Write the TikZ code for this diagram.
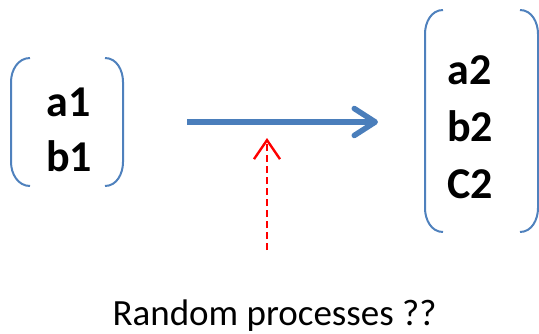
\documentclass[tikz,border=0pt]{standalone}
\usepackage{fontspec}
\setmainfont{Carlito}
\usetikzlibrary{arrows.meta}
\definecolor{parblue}{HTML}{4F81BD}
\definecolor{flowblue}{HTML}{4A7EBB}

\begin{document}
\begin{tikzpicture}[x=1pt,y=-1pt,
var/.style={font=\fontsize{44}{50}\selectfont\bfseries,
  text height=28pt,text depth=0pt,inner sep=0pt},
note/.style={font=\fontsize{37}{42}\selectfont,inner sep=0pt},
paren/.style={draw=parblue,line width=2pt},
flow/.style={draw=flowblue,line width=5.5pt,
  -{Straight Barb[length=21pt,width=27pt,line cap=round,line join=round]}},
hint/.style={draw=red,line width=2.4pt,dash pattern=on 7pt off 4pt,
  -{Straight Barb[length=19pt,width=26pt,line width=2.4pt]}},
node distance=55pt]
\useasboundingbox (0,0) rectangle (539,333);

\node[var] (a1) at (69,102) {a1};
\node[var,below of=a1] (b1) {b1};

\node[var] (a2) at (470,70) {a2};
\node[var,below of=a2,node distance=57pt] (b2) {b2};
\node[var,below of=b2,node distance=57pt] (c2) {C2};

\node[note,anchor=base] (rp) at (274.5,325) {Random processes ??};

% brackets
\draw[paren] (30,58) to[out=180,in=90] (11,82) -- (11,162) to[out=-90,in=180] (30,186);
\draw[paren] (105,58) to[out=0,in=90] (123,82) -- (123,162) to[out=-90,in=0] (105,186);
\draw[paren] (443,10) to[out=180,in=90] (425,34) -- (425,208) to[out=-90,in=180] (443,232);
\draw[paren] (520,10) to[out=0,in=90] (538,34) -- (538,208) to[out=-90,in=0] (520,232);

\coordinate (from) at (187,122);
\coordinate (to) at (378,122);
\coordinate (src) at (267,250);
\coordinate (hit) at (267,138);

\path[flow] (from) -- (to);
\path[hint] (src) -- (hit);

\end{tikzpicture}
\end{document}
